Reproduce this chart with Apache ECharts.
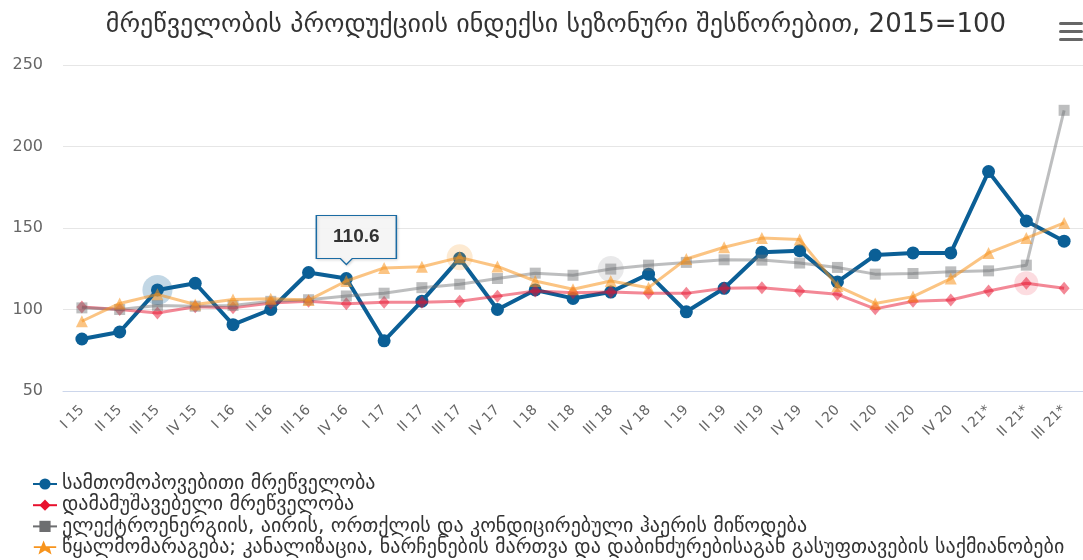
<!DOCTYPE html>
<html>
<head>
<meta charset="utf-8">
<script src="https://cdn.jsdelivr.net/npm/echarts@6/dist/echarts.min.js"></script>
<style>html,body{margin:0;padding:0;background:#fff}#c{width:1083px;height:560px}</style>
</head>
<body>
<div id="c"></div>
<script>
const titleText = 'მრეწველობის პროდუქციის ინდექსი სეზონური შესწორებით, 2015=100';
const categories = ['I 15','II 15','III 15','IV 15','I 16','II 16','III 16','IV 16','I 17','II 17','III 17','IV 17','I 18','II 18','III 18','IV 18','I 19','II 19','III 19','IV 19','I 20','II 20','III 20','IV 20','I 21*','II 21*','III 21*'];
const seriesNames = [
  'სამთომოპოვებითი მრეწველობა',
  'დამამუშავებელი მრეწველობა',
  'ელექტროენერგიის, აირის, ორთქლის და კონდიცირებული ჰაერის მიწოდება',
  'წყალმომარაგება; კანალიზაცია, ნარჩენების მართვა და დაბინძურებისაგან გასუფთავების საქმიანობები'
];
const mining = [81.9,86.2,112,116.1,90.7,100,122.7,119,80.8,105.1,131.4,100,112,106.8,110.7,121.7,98.6,113,135.1,136.1,116.9,133.4,134.7,134.7,184.6,154.3,141.9];
const manufacturing = [101.5,100,97.8,101.7,101,104,105,103.5,104.5,104.5,105.1,108.2,111.3,110.3,110.7,109.9,109.9,113,113.4,111.3,109.3,100.4,105.1,105.8,111.3,116.1,113];
const electricity = [101,100,102.5,102,102.5,105,106,108.3,110,113.4,115.5,119,122.3,121,124.8,127.2,128.9,130.5,130.3,128.5,125.8,121.7,122.1,123.1,123.7,127.2,222.2];
const water = [92.8,103.7,109.3,103.1,106.2,106.6,105.8,117.5,125.5,126.2,132,126.4,117.5,112.4,117.5,113.4,131,138.2,143.8,142.9,114.4,103.7,107.9,119,134.7,143.8,153.1];
const yTicks = [50,100,150,200,250];
const tooltipIndex = 7;
const tooltipValue = 110.6;

const FONT = 'DejaVu Sans';
const chart = echarts.init(document.getElementById('c'), null, {renderer:'canvas'});

function halo(idx, arr, color, size, op){
  return {coord:[idx, arr[idx]], symbol:'circle', symbolSize:size, itemStyle:{color:color, opacity:op}, label:{show:false}};
}

const solid = ['#0b5f96','#e8112d','#6d6e70','#f7941d'];
const starPath = 'path://M0,9 H8 L10.5,3 L13,9 H24 V11 H17 L19,18 L12,13.5 L5,18 L7,11 H0 Z';

chart.setOption({
  animation:false,
  title:{text:titleText, left:551, textAlign:'center', top:7, textStyle:{fontFamily:FONT, fontSize:26, fontWeight:'normal', color:'#333'}},
  grid:{left:63, right:-6, top:65, bottom:169, containLabel:false},
  xAxis:{type:'category', data:categories, boundaryGap:true,
    axisLine:{lineStyle:{color:'#ccd6eb'}}, axisTick:{show:false},
    axisLabel:{rotate:45, interval:0, color:'#666', fontFamily:FONT, fontSize:14, margin:17}},
  yAxis:{type:'value', min:yTicks[0], max:yTicks[yTicks.length-1], interval:50,
    axisLine:{show:false}, axisTick:{show:false},
    splitLine:{lineStyle:{color:'#e6e6e6'}},
    axisLabel:{color:'#666', fontFamily:FONT, fontSize:16, margin:20}},
  legend:{orient:'vertical', left:27, top:469, height:200, itemGap:1.2, itemWidth:24, itemHeight:14,
    textStyle:{fontFamily:FONT, fontSize:20, color:'#333'},
    data:[
      {name:seriesNames[0], itemStyle:{color:solid[0], opacity:1}, lineStyle:{color:solid[0], opacity:1}},
      {name:seriesNames[1], itemStyle:{color:solid[1], opacity:1}, lineStyle:{color:solid[1], opacity:1}},
      {name:seriesNames[2], itemStyle:{color:solid[2], opacity:1}, lineStyle:{color:solid[2], opacity:1}},
      {name:seriesNames[3], icon:starPath, itemStyle:{color:solid[3], opacity:1}}
    ]},
  graphic:[
    {type:'rect', right:0, top:22, shape:{width:24, height:3, r:1.5}, style:{fill:'#666'}},
    {type:'rect', right:0, top:30, shape:{width:24, height:3, r:1.5}, style:{fill:'#666'}},
    {type:'rect', right:0, top:38, shape:{width:24, height:3, r:1.5}, style:{fill:'#666'}}
  ],
  series:[
    {name:seriesNames[0], type:'line', data:mining, symbol:'circle', symbolSize:13, z:2,
      lineStyle:{width:4, color:'#0b5f96'}, itemStyle:{color:'#0b5f96'},
      markPoint:{silent:true, data:[
        halo(2, mining, '#0b5f96', 30, 0.25),
        {coord:[tooltipIndex, mining[tooltipIndex]], value:tooltipValue,
          symbol:'path://M0,0 H80 V43 H36 L30,49 L24,43 H0 Z', symbolKeepAspect:false,
          symbolSize:[80,49], symbolOffset:[10,-38.5],
          itemStyle:{color:'rgba(247,247,247,0.9)', borderColor:'#1a6ba3', borderWidth:1.2, shadowColor:'rgba(0,0,0,0.15)', shadowBlur:3, shadowOffsetX:1, shadowOffsetY:1, opacity:1},
          label:{show:true, position:'inside', offset:[0,-3], formatter:String(tooltipValue), color:'#333', fontFamily:'Liberation Sans', fontSize:19, fontWeight:'bold'}}
      ]}},
    {name:seriesNames[1], type:'line', data:manufacturing, symbol:'diamond', symbolSize:[11,13], z:3,
      lineStyle:{width:3, color:'rgba(232,17,45,0.5)'}, itemStyle:{color:'rgba(232,17,45,0.5)'},
      markPoint:{silent:true, data:[halo(25, manufacturing, '#e8112d', 24, 0.15)]}},
    {name:seriesNames[2], type:'line', data:electricity, symbol:'rect', symbolSize:11, z:4,
      lineStyle:{width:3, color:'rgba(109,110,112,0.45)'}, itemStyle:{color:'rgba(109,110,112,0.45)'},
      markPoint:{silent:true, data:[halo(14, electricity, '#6d6e70', 26, 0.15)]}},
    {name:seriesNames[3], type:'line', data:water, symbol:'triangle', symbolSize:12, z:5,
      lineStyle:{width:3, color:'rgba(247,148,29,0.55)'}, itemStyle:{color:'rgba(247,148,29,0.55)'},
      markPoint:{silent:true, data:[halo(10, water, '#f7941d', 26, 0.2)]}}
  ]
});
</script>
</body>
</html>
